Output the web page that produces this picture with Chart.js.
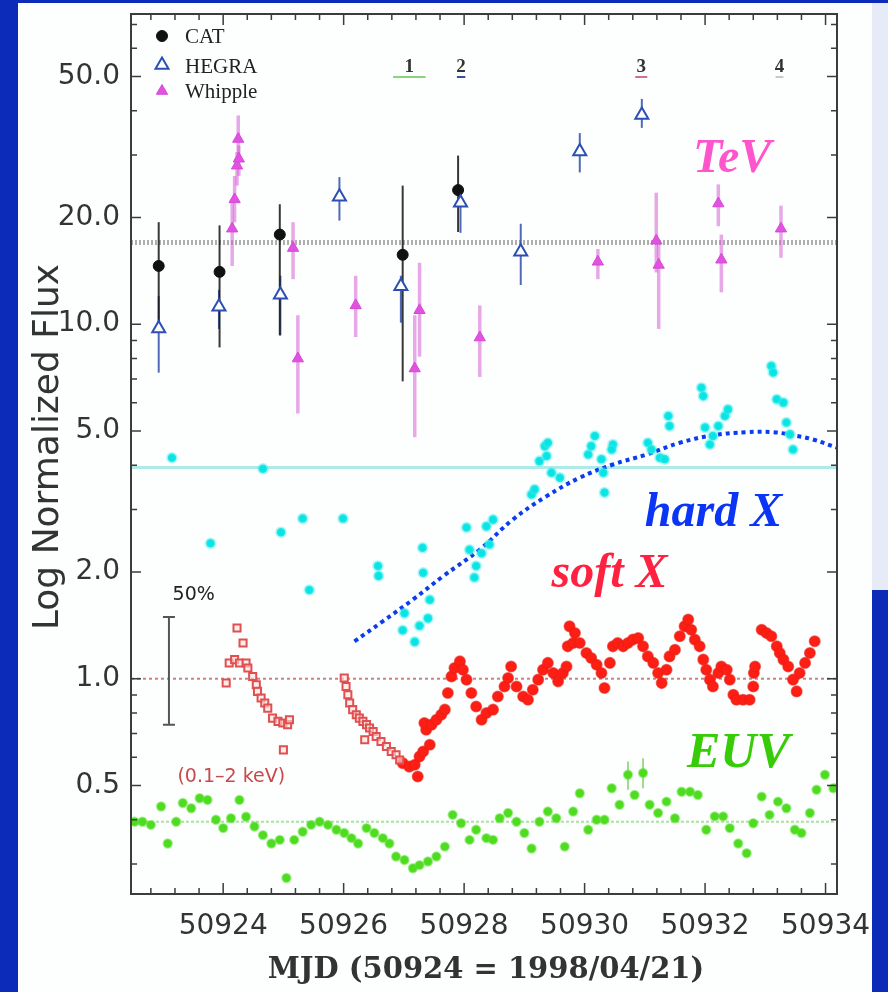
<!DOCTYPE html>
<html>
<head>
<meta charset="utf-8">
<title>Mkn 501 multiwavelength light curve</title>
<script src="https://cdn.jsdelivr.net/npm/chart.js@4.4.1/dist/chart.umd.min.js"></script>
<style>
  html, body { margin: 0; padding: 0; }
  body { width: 888px; height: 992px; position: relative; overflow: hidden; background: #0b2bb8; }
  #panel { position: absolute; left: 18px; top: 3px; width: 854px; height: 989px; background: #fdfefe; }
  #edge { position: absolute; left: 872px; top: 3px; width: 16px; height: 587px; background: #e6ebf7; }
  #wrap { position: absolute; left: 0; top: 0; width: 888px; height: 992px; }
</style>
</head>
<body>
<div id="panel"></div>
<div id="edge"></div>
<div id="wrap"><canvas id="lightCurve" width="888" height="992"></canvas></div>
<script>
// axis ticks
const xMajorTicks = [50924, 50926, 50928, 50930, 50932, 50934];
const yMajorTicks = [0.5, 1, 2, 5, 10, 20, 50];
const yTickLabels = ['0.5', '1.0', '2.0', '5.0', '10.0', '20.0', '50.0'];
const yMinorTicks = [0.3, 0.4, 0.6, 0.7, 0.8, 0.9, 3, 4, 6, 7, 8, 9, 30, 40, 60, 70];

// TeV: CAT
const catX = [50922.93, 50923.94, 50924.94, 50926.98, 50927.90];
const catY = [14.6, 14.05, 17.9, 15.7, 23.9];
const catLo = [10.1, 8.6, 9.3, 6.9, 18.2];
const catHi = [19.4, 19.0, 21.8, 24.6, 29.9];

// TeV: HEGRA
const hegraX = [50922.93, 50923.93, 50924.95, 50925.93, 50926.95, 50927.94, 50928.94, 50929.92, 50930.95];
const hegraY = [9.72, 11.2, 12.1, 22.9, 12.8, 22.0, 16.0, 30.7, 38.9];
const hegraLo = [7.3, 9.7, 9.3, 19.6, 10.1, 18.1, 12.9, 26.8, 35.8];
const hegraHi = [12.0, 12.5, 13.7, 26.0, 13.7, 24.6, 19.2, 34.6, 43.2];

// TeV: Whipple
const whipX = [50924.15, 50924.19, 50924.23, 50924.26, 50924.25, 50925.16, 50925.24, 50926.20, 50927.18,
  50927.26, 50928.26, 50930.22, 50931.19, 50931.23, 50932.22, 50932.27, 50933.26];
const whipY = [18.6, 22.5, 28.0, 29.3, 33.3, 16.4, 8.0, 11.3, 7.5, 10.95, 9.17, 15.0, 17.2, 14.7, 21.9, 15.2, 18.6];
const whipLo = [14.6, 19.4, 24.6, 26.2, 29.9, 13.4, 5.6, 9.2, 4.8, 8.1, 7.1, 13.4, 14.0, 9.7, 18.9, 12.3, 15.4];
const whipHi = [22.5, 26.2, 30.6, 31.9, 38.8, 19.4, 10.6, 13.7, 10.6, 14.9, 11.3, 16.3, 23.5, 17.2, 24.8, 17.9, 21.6];

// hard X
const hardX = [50923.15, 50923.79, 50924.66, 50924.96, 50925.32, 50925.43, 50925.99, 50926.57, 50926.58, 50926.98,
  50927.01, 50927.18, 50927.26, 50927.40, 50927.43, 50927.32, 50927.31, 50928.04, 50928.09, 50928.17,
  50928.20, 50928.29, 50928.37, 50928.42, 50928.48, 50929.12, 50929.17, 50929.25, 50929.34, 50929.37,
  50929.39, 50929.45, 50929.59, 50930.06, 50930.11, 50930.17, 50930.28, 50930.31, 50930.33, 50930.47,
  50930.45, 50931.05, 50931.11, 50931.25, 50931.33, 50931.39, 50931.41, 50931.94, 50931.97, 50932.00,
  50932.08, 50932.13, 50932.22, 50932.33, 50932.38, 50933.10, 50933.13, 50933.19, 50933.30, 50933.35,
  50933.41, 50933.46];
const hardY = [4.20, 2.41, 3.91, 2.59, 2.83, 1.78, 2.83, 2.08, 1.95, 1.37,
  1.53, 1.27, 1.41, 1.48, 1.67, 1.99, 2.34, 2.67, 2.31, 1.93,
  2.08, 2.26, 2.69, 2.39, 2.81, 3.31, 3.42, 4.11, 4.53, 4.25,
  4.63, 3.81, 3.69, 4.29, 4.53, 4.84, 4.16, 3.81, 3.35, 4.58,
  4.43, 4.63, 4.43, 4.20, 4.16, 5.51, 5.16, 6.62, 6.27, 5.11,
  4.58, 4.84, 5.16, 5.51, 5.75, 7.62, 7.31, 6.14, 6.01, 5.28,
  4.89, 4.43];

// soft X (filled)
const softX = [50926.98, 50927.09, 50927.18, 50927.23, 50927.26, 50927.32, 50927.43, 50927.37, 50927.34, 50927.46,
  50927.54, 50927.62, 50927.68, 50927.73, 50927.79, 50927.84, 50927.93, 50927.98, 50928.04, 50928.12,
  50928.20, 50928.29, 50928.37, 50928.48, 50928.56, 50928.67, 50928.73, 50928.78, 50928.87, 50928.98,
  50929.06, 50929.14, 50929.23, 50929.31, 50929.39, 50929.48, 50929.56, 50929.64, 50929.70, 50929.72,
  50929.75, 50929.81, 50929.84, 50929.92, 50930.03, 50930.11, 50930.20, 50930.28, 50930.33, 50930.42,
  50930.47, 50930.55, 50930.64, 50930.72, 50930.80, 50930.89, 50930.97, 50931.05, 50931.14, 50931.22,
  50931.28, 50931.36, 50931.41, 50931.50, 50931.58, 50931.66, 50931.72, 50931.77, 50931.83, 50931.91,
  50931.97, 50932.02, 50932.08, 50932.13, 50932.22, 50932.27, 50932.36, 50932.41, 50932.47, 50932.52,
  50932.63, 50932.74, 50932.80, 50932.81, 50932.83, 50932.94, 50933.02, 50933.10, 50933.19, 50933.24,
  50933.30, 50933.38, 50933.46, 50933.52, 50933.57, 50933.66, 50933.74, 50933.82];
const softY = [0.578, 0.565, 0.572, 0.530, 0.603, 0.623, 0.651, 0.718, 0.750, 0.742,
  0.766, 0.791, 0.818, 0.911, 1.015, 1.072, 1.119, 1.060, 0.994, 0.911,
  0.835, 0.766, 0.800, 0.818, 0.891, 0.951, 1.005, 1.083, 0.951, 0.891,
  0.872, 0.931, 0.994, 1.060, 1.108, 1.038, 0.983, 1.038, 1.083, 1.234,
  1.405, 1.261, 1.346, 1.261, 1.182, 1.144, 1.095, 1.038, 0.941, 1.108,
  1.234, 1.261, 1.234, 1.261, 1.289, 1.303, 1.234, 1.156, 1.108, 1.038,
  0.972, 1.060, 1.156, 1.207, 1.317, 1.405, 1.468, 1.375, 1.289, 1.234,
  1.132, 1.060, 0.994, 0.951, 1.038, 1.083, 1.060, 0.994, 0.901, 0.872,
  0.872, 0.872, 0.951, 1.038, 1.083, 1.375, 1.346, 1.317, 1.234, 1.182,
  1.132, 1.083, 0.994, 0.921, 1.038, 1.108, 1.182, 1.275];

// soft X 0.1-2 keV (open squares)
const lowX = [50924.05, 50924.10, 50924.19, 50924.23, 50924.33, 50924.27, 50924.38, 50924.41, 50924.49, 50924.55,
  50924.57, 50924.63, 50924.69, 50924.74, 50924.82, 50924.91, 50924.99, 50925.07, 50925.10, 50925.00,
  50926.01, 50926.04, 50926.07, 50926.10, 50926.15, 50926.21, 50926.26, 50926.32, 50926.38, 50926.43,
  50926.49, 50926.54, 50926.62, 50926.71, 50926.79, 50926.87, 50926.93, 50926.35];
const lowY = [0.972, 1.108, 1.132, 1.390, 1.261, 1.108, 1.108, 1.072, 1.015, 0.962,
  0.921, 0.882, 0.854, 0.826, 0.774, 0.758, 0.750, 0.742, 0.766, 0.630,
  1.005, 0.951, 0.901, 0.854, 0.818, 0.791, 0.774, 0.758, 0.742, 0.726,
  0.710, 0.687, 0.665, 0.644, 0.623, 0.610, 0.590, 0.673];

// EUV
const euvX = [50922.53, 50922.66, 50922.80, 50922.97, 50923.08, 50923.22, 50923.33, 50923.47, 50923.61, 50923.74,
  50923.88, 50924.00, 50924.13, 50924.27, 50924.38, 50924.52, 50924.66, 50924.80, 50924.94, 50925.05,
  50925.18, 50925.32, 50925.46, 50925.60, 50925.74, 50925.88, 50926.01, 50926.13, 50926.24, 50926.38,
  50926.51, 50926.65, 50926.76, 50926.87, 50927.01, 50927.15, 50927.26, 50927.40, 50927.54, 50927.68,
  50927.81, 50927.95, 50928.09, 50928.20, 50928.37, 50928.48, 50928.59, 50928.73, 50928.87, 50929.00,
  50929.12, 50929.25, 50929.39, 50929.53, 50929.67, 50929.81, 50929.92, 50930.06, 50930.20, 50930.33,
  50930.45, 50930.58, 50930.72, 50930.83, 50930.97, 50931.08, 50931.22, 50931.36, 50931.50, 50931.61,
  50931.75, 50931.88, 50932.02, 50932.16, 50932.30, 50932.41, 50932.55, 50932.69, 50932.80, 50932.94,
  50933.07, 50933.21, 50933.35, 50933.49, 50933.60, 50933.74, 50933.85, 50933.99, 50934.13];
const euvY = [0.395, 0.395, 0.387, 0.436, 0.343, 0.395, 0.446, 0.431, 0.460, 0.455,
  0.400, 0.379, 0.404, 0.455, 0.408, 0.383, 0.362, 0.343, 0.351, 0.274,
  0.351, 0.370, 0.387, 0.395, 0.387, 0.375, 0.367, 0.355, 0.343, 0.379,
  0.367, 0.355, 0.343, 0.315, 0.308, 0.292, 0.298, 0.305, 0.315, 0.336,
  0.413, 0.391, 0.351, 0.375, 0.355, 0.351, 0.404, 0.418, 0.395, 0.367,
  0.332, 0.395, 0.422, 0.404, 0.336, 0.422, 0.475, 0.375, 0.400, 0.400,
  0.491, 0.441, 0.536, 0.470, 0.542, 0.441, 0.418, 0.450, 0.404, 0.480,
  0.480, 0.470, 0.375, 0.409, 0.409, 0.379, 0.343, 0.322, 0.391, 0.465,
  0.413, 0.450, 0.431, 0.375, 0.367, 0.418, 0.486, 0.536, 0.491];
const euvErrX = [50930.72, 50930.97];
const euvErrLo = [0.486, 0.491];
const euvErrHi = [0.584, 0.597];

// hard X trend (dotted curve)
const trendX = [50926.18, 50926.65, 50927.15, 50927.65, 50928.26, 50928.81, 50929.37, 50929.92, 50930.47,
  50931.03, 50931.58, 50932.13, 50932.69, 50933.13, 50933.52, 50933.79, 50934.20, 50934.40];
const trendY = [1.275, 1.452, 1.672, 1.945, 2.314, 2.813, 3.273, 3.69, 4.02,
  4.29, 4.63, 4.86, 4.96, 4.96, 4.84, 4.73, 4.48, 4.38];

// mean levels: TeV, hard X, soft X, EUV
const meanLevels = [17.0, 3.94, 1.0, 0.395];

// 50% scale bar
const scaleBarX = 50923.10;
const scaleBarLo = 0.741;
const scaleBarHi = 1.494;

// numbered periods at top
const periodLabels = ['1', '2', '3', '4'];
const periodStart = [50926.82, 50927.88, 50930.84, 50933.17];
const periodEnd = [50927.36, 50928.02, 50931.04, 50933.30];

// text labels in the plot
const noteText = ['TeV', 'hard X', 'soft X', 'EUV', '50%', '(0.1\u20132 keV)'];
const noteX = [50931.80, 50931.00, 50929.45, 50931.70, 50923.16, 50923.24];
const noteY = [26.9, 2.69, 1.81, 0.564, 1.67, 0.512];

const legendNames = ['CAT', 'HEGRA', 'Whipple'];

// ---------- styles ----------
const meanStyles = [
  { color: 'rgba(160,160,160,0.85)', width: 5, dash: [2, 2] },
  { color: '#aeeaea', width: 3, dash: [] },
  { color: '#c98080', width: 2, dash: [3, 3] },
  { color: '#a9e39c', width: 2, dash: [3, 2] }
];
const noteStyles = [
  { font: 'italic bold 48px "Liberation Serif"', color: '#ff55cc' },
  { font: 'italic bold 48px "Liberation Serif"', color: '#0a35f5' },
  { font: 'italic bold 48px "Liberation Serif"', color: '#ff2240' },
  { font: 'italic bold 50px "Liberation Serif"', color: '#38cc08' },
  { font: '19px "DejaVu Sans"', color: '#222222' },
  { font: '19px "DejaVu Sans"', color: '#c84a4a' }
];
const periodColors = ['#8fd27c', '#3a4f9a', '#d07090', '#c8c8c8'];

const catStyle = { pointStyle: 'circle', radius: 5.5, bg: '#111111', border: '#111111', bw: 1 };
const hegraStyle = { pointStyle: 'triangle', radius: 7.5, bg: '#ffffff', border: '#2b4fb3', bw: 2 };
const whipStyle = { pointStyle: 'triangle', radius: 6.5, bg: '#e052e0', border: '#d848d8', bw: 1 };

const toXY = (xs, ys) => xs.map((x, i) => ({ x: x, y: ys[i] }));

function drawBars(ctx, xs, xScale, yScale, lo, hi, color, width) {
  ctx.strokeStyle = color;
  ctx.lineWidth = width;
  xs.forEach((x, i) => {
    const px = xScale.getPixelForValue(x);
    ctx.beginPath();
    ctx.moveTo(px, yScale.getPixelForValue(hi[i]));
    ctx.lineTo(px, yScale.getPixelForValue(lo[i]));
    ctx.stroke();
  });
}

const overlay = {
  id: 'overlay',
  beforeDatasetsDraw(chart) {
    const { ctx, chartArea: a, scales: { x, y } } = chart;
    ctx.save();
    ctx.beginPath();
    ctx.rect(a.left, a.top, a.right - a.left, a.bottom - a.top);
    ctx.clip();
    // mean levels
    meanLevels.forEach((v, i) => {
      const s = meanStyles[i];
      const py = y.getPixelForValue(v);
      ctx.strokeStyle = s.color;
      ctx.lineWidth = s.width;
      ctx.setLineDash(s.dash);
      ctx.beginPath();
      ctx.moveTo(a.left, py);
      ctx.lineTo(a.right, py);
      ctx.stroke();
    });
    ctx.setLineDash([]);
    // error bars
    drawBars(ctx, whipX, x, y, whipLo, whipHi, 'rgba(214,96,214,0.55)', 3.5);
    drawBars(ctx, hegraX, x, y, hegraLo, hegraHi, 'rgba(50,80,170,0.85)', 2);
    drawBars(ctx, catX, x, y, catLo, catHi, 'rgba(20,20,20,0.85)', 2);
    drawBars(ctx, euvErrX, x, y, euvErrLo, euvErrHi, 'rgba(90,200,60,0.8)', 1.5);
    // 50% scale bar
    const bx = x.getPixelForValue(scaleBarX);
    const bt = y.getPixelForValue(scaleBarHi);
    const bb = y.getPixelForValue(scaleBarLo);
    ctx.strokeStyle = '#555555';
    ctx.lineWidth = 2;
    ctx.beginPath();
    ctx.moveTo(bx, bt); ctx.lineTo(bx, bb);
    ctx.moveTo(bx - 6, bt); ctx.lineTo(bx + 6, bt);
    ctx.moveTo(bx - 6, bb); ctx.lineTo(bx + 6, bb);
    ctx.stroke();
    ctx.restore();
  },
  afterDraw(chart) {
    const { ctx, chartArea: a, scales: { x, y } } = chart;
    ctx.save();
    // frame
    ctx.strokeStyle = '#3c3c3c';
    ctx.lineWidth = 2;
    ctx.strokeRect(a.left, a.top, a.right - a.left, a.bottom - a.top);
    // inward ticks
    ctx.lineWidth = 1.5;
    ctx.beginPath();
    x.ticks.forEach(t => {
      const px = x.getPixelForValue(t.value);
      const len = xMajorTicks.includes(t.value) ? 11 : 6;
      ctx.moveTo(px, a.bottom); ctx.lineTo(px, a.bottom - len);
      ctx.moveTo(px, a.top); ctx.lineTo(px, a.top + len);
    });
    y.ticks.forEach(t => {
      const py = y.getPixelForValue(t.value);
      const len = yMajorTicks.includes(t.value) ? 10 : 6;
      ctx.moveTo(a.left, py); ctx.lineTo(a.left + len, py);
      ctx.moveTo(a.right, py); ctx.lineTo(a.right - len, py);
    });
    ctx.stroke();

    // legend
    const H = Chart.helpers;
    const lx = a.left + 31;
    const marks = [catStyle, hegraStyle, whipStyle];
    const markY = [a.top + 22, a.top + 51, a.top + 77];
    const textY = [a.top + 29, a.top + 59, a.top + 84];
    ctx.font = '21px "Liberation Serif"';
    ctx.textAlign = 'left';
    ctx.textBaseline = 'alphabetic';
    marks.forEach((m, i) => {
      ctx.fillStyle = m.bg;
      ctx.strokeStyle = m.border;
      ctx.lineWidth = m.bw;
      H.drawPoint(ctx, { pointStyle: m.pointStyle, radius: m.radius, rotation: 0, borderWidth: m.bw }, lx, markY[i]);
      ctx.fillStyle = '#222222';
      ctx.fillText(legendNames[i], a.left + 54, textY[i]);
    });

    // numbered periods
    ctx.font = 'bold 19px "Liberation Serif"';
    ctx.textAlign = 'center';
    periodLabels.forEach((lab, i) => {
      const x0 = x.getPixelForValue(periodStart[i]);
      const x1 = x.getPixelForValue(periodEnd[i]);
      ctx.fillStyle = '#333333';
      ctx.fillText(lab, (x0 + x1) / 2, a.top + 58);
      ctx.strokeStyle = periodColors[i];
      ctx.lineWidth = 2;
      ctx.beginPath();
      ctx.moveTo(x0, a.top + 63);
      ctx.lineTo(x1, a.top + 63);
      ctx.stroke();
    });

    // labels
    ctx.textAlign = 'left';
    noteText.forEach((txt, i) => {
      ctx.font = noteStyles[i].font;
      ctx.fillStyle = noteStyles[i].color;
      ctx.fillText(txt, x.getPixelForValue(noteX[i]), y.getPixelForValue(noteY[i]));
    });

    // axis titles
    ctx.fillStyle = '#333333';
    ctx.font = 'bold 29px "DejaVu Serif"';
    ctx.textAlign = 'center';
    ctx.fillText('MJD (50924 = 1998/04/21)', 486, 978);
    ctx.save();
    ctx.translate(58, 447);
    ctx.rotate(-Math.PI / 2);
    ctx.font = '36px "DejaVu Sans"';
    ctx.fillText('Log Normalized Flux', 0, 0);
    ctx.restore();
    ctx.restore();
  }
};

const xMinorTicks = [];
for (let v = 50922.8; v < 50934.1; v += 0.4) xMinorTicks.push(Math.round(v * 10) / 10);

new Chart(document.getElementById('lightCurve').getContext('2d'), {
  type: 'scatter',
  data: {
    datasets: [
      {
        label: 'EUV',
        data: toXY(euvX, euvY),
        pointStyle: 'circle', pointRadius: 4.2,
        backgroundColor: '#4fdc20', borderColor: 'rgba(90,225,50,0.5)', borderWidth: 2
      },
      {
        label: 'soft X (0.1-2 keV)',
        data: toXY(lowX, lowY),
        pointStyle: 'rect', pointRadius: 5,
        backgroundColor: 'rgba(255,225,225,0.6)', borderColor: '#e05050', borderWidth: 2
      },
      {
        label: 'soft X',
        data: toXY(softX, softY),
        pointStyle: 'circle', pointRadius: 5.3,
        backgroundColor: '#ff1e14', borderColor: 'rgba(230,30,20,0.6)', borderWidth: 1.5
      },
      {
        label: 'hard X',
        data: toXY(hardX, hardY),
        pointStyle: 'circle', pointRadius: 4.3,
        backgroundColor: '#08e4e4', borderColor: 'rgba(60,235,235,0.4)', borderWidth: 3
      },
      {
        label: 'hard X trend',
        type: 'line',
        data: toXY(trendX, trendY),
        showLine: true, pointRadius: 0, tension: 0.4, clip: false,
        borderColor: '#0a3cf0', borderWidth: 4, borderDash: [4, 4], borderCapStyle: 'butt'
      },
      {
        label: 'Whipple',
        data: toXY(whipX, whipY),
        pointStyle: whipStyle.pointStyle, pointRadius: whipStyle.radius,
        backgroundColor: whipStyle.bg, borderColor: whipStyle.border, borderWidth: whipStyle.bw
      },
      {
        label: 'HEGRA',
        data: toXY(hegraX, hegraY),
        pointStyle: hegraStyle.pointStyle, pointRadius: hegraStyle.radius,
        backgroundColor: hegraStyle.bg, borderColor: hegraStyle.border, borderWidth: hegraStyle.bw
      },
      {
        label: 'CAT',
        data: toXY(catX, catY),
        pointStyle: catStyle.pointStyle, pointRadius: catStyle.radius,
        backgroundColor: catStyle.bg, borderColor: catStyle.border, borderWidth: catStyle.bw
      }
    ]
  },
  options: {
    responsive: false,
    animation: false,
    layout: { padding: { top: 14, right: 51, left: 0, bottom: 0 } },
    plugins: {
      legend: { display: false },
      tooltip: { enabled: false }
    },
    scales: {
      x: {
        type: 'linear',
        min: 50922.47,
        max: 50934.19,
        grid: { display: false, drawTicks: false },
        border: { display: false },
        afterBuildTicks: function (scale) {
          scale.ticks = xMinorTicks.map(v => ({ value: v }));
        },
        afterFit: function (scale) {
          scale.height = 98;
          scale.paddingLeft = 0;
          scale.paddingRight = 0;
        },
        ticks: {
          autoSkip: false,
          maxRotation: 0,
          padding: 16,
          color: '#333333',
          font: { family: 'DejaVu Sans', size: 28 },
          callback: function (value) {
            return xMajorTicks.includes(value) ? String(value) : '';
          }
        }
      },
      y: {
        type: 'logarithmic',
        min: 0.247,
        max: 75,
        grid: { display: false, drawTicks: false },
        border: { display: false },
        afterBuildTicks: function (scale) {
          scale.ticks = yMajorTicks.concat(yMinorTicks).sort((p, q) => p - q).map(v => ({ value: v }));
        },
        afterFit: function (scale) {
          scale.width = 131;
          scale.paddingTop = 0;
          scale.paddingBottom = 0;
        },
        ticks: {
          autoSkip: false,
          padding: 11,
          color: '#333333',
          font: { family: 'DejaVu Sans', size: 28 },
          callback: function (value) {
            const k = yMajorTicks.indexOf(value);
            return k >= 0 ? yTickLabels[k] : '';
          }
        }
      }
    }
  },
  plugins: [overlay]
});
</script>
</body>
</html>
